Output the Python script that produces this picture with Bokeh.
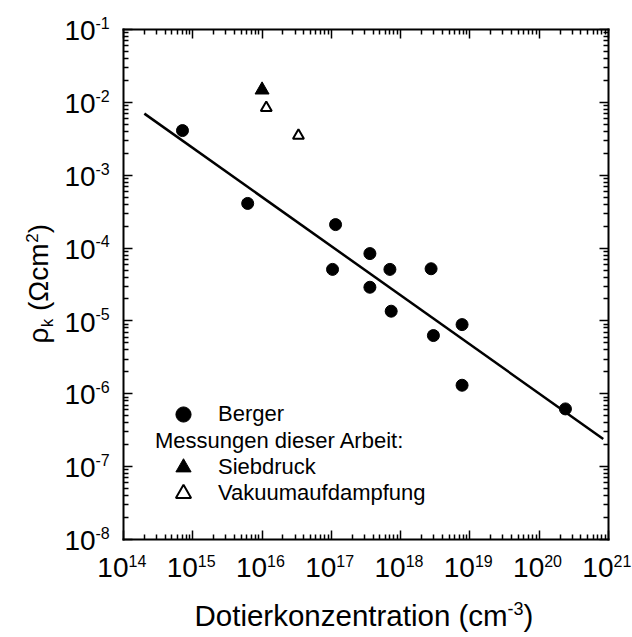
import math
from bokeh.plotting import figure
from bokeh.models import (LogAxis, FixedTicker, Label, Legend, LegendItem,
                          CustomJSTickFormatter, Range1d)
from bokeh.embed import file_html
from bokeh.resources import INLINE

# ---- data ----
berger_n = [7.1e14, 6.2e15, 1.15e17, 3.6e17, 1.04e17, 7.0e17, 2.75e18,
            3.6e17, 7.3e17, 7.7e18, 2.97e18, 7.7e18, 2.39e20]
berger_rho = [4.1e-3, 4.1e-4, 2.1e-4, 8.4e-5, 5.1e-5, 5.1e-5, 5.2e-5,
              2.9e-5, 1.36e-5, 8.9e-6, 6.3e-6, 1.31e-6, 6.2e-7]
sieb_n = [1.0e16]
sieb_rho = [1.48e-2]
vak_n = [1.15e16, 3.35e16]
vak_rho = [8.4e-3, 3.5e-3]
fit_n = [2.0e14, 8.4e20]
fit_rho = [7.0e-3, 2.4e-7]

x_exponents = [14, 15, 16, 17, 18, 19, 20, 21]
x_tick_sup = ["14", "15", "16", "17", "18", "19", "20", "21"]
y_exponents = [-8, -7, -6, -5, -4, -3, -2, -1]
y_tick_sup = ["-8", "-7", "-6", "-5", "-4", "-3", "-2", "-1"]

legend_labels = ["Berger", "Siebdruck", "Vakuumaufdampfung"]
legend_heading = "Messungen dieser Arbeit:"
x_title = "Dotierkonzentration (cm"
x_title_sup = "-3"

FONT = "Liberation Sans"

# ---- layout geometry (canvas pixels) ----
W, H = 632, 637
BOX_L, BOX_R, BOX_T, BOX_B = 123, 608, 29, 539
xmin, xmax = 1e14, 1e21
ymin, ymax = 1e-8, 1e-1
dx = (BOX_R - BOX_L) / (math.log10(xmax) - math.log10(xmin))
dy = (BOX_B - BOX_T) / (math.log10(ymax) - math.log10(ymin))
x_range = Range1d(10 ** (math.log10(xmin) - BOX_L / dx),
                  10 ** (math.log10(xmax) + (W - BOX_R) / dx))
y_range = Range1d(10 ** (math.log10(ymin) - (H - BOX_B) / dy),
                  10 ** (math.log10(ymax) + BOX_T / dy))

p = figure(width=W, height=H, x_axis_type="log", y_axis_type="log",
           x_range=x_range, y_range=y_range,
           output_backend="svg", toolbar_location=None,
           min_border_left=0, min_border_right=0,
           min_border_top=0, min_border_bottom=0)
p.grid.visible = False
p.outline_line_color = None
p.background_fill_color = "white"
p.border_fill_color = "white"

x_major = [10.0 ** e for e in x_exponents]
x_minor = [m * 10.0 ** e for e in x_exponents[:-1] for m in range(2, 10)]
y_major = [10.0 ** e for e in y_exponents]
y_minor = [m * 10.0 ** e for e in y_exponents[:-1] for m in range(2, 10)]


def style(ax, major, minor, loc, bounds):
    ax.ticker = FixedTicker(ticks=major, minor_ticks=minor)
    ax.formatter = CustomJSTickFormatter(code="return ''")
    ax.fixed_location = loc
    ax.bounds = bounds
    ax.major_label_text_font_size = "0px"
    ax.major_label_standoff = 0
    ax.axis_line_width = 2
    ax.axis_line_color = "black"
    ax.axis_line_cap = "square"
    ax.major_tick_in = 9
    ax.major_tick_out = 0
    ax.minor_tick_in = 5
    ax.minor_tick_out = 0
    ax.major_tick_line_width = 1.5
    ax.minor_tick_line_width = 1.5
    ax.major_tick_line_color = "black"
    ax.minor_tick_line_color = "black"


style(p.xaxis[0], x_major, x_minor, ymin, (xmin, xmax))
style(p.yaxis[0], y_major, y_minor, xmin, (ymin, ymax))
top = LogAxis()
style(top, x_major, x_minor, ymax, (xmin, xmax))
p.add_layout(top, "above")
right = LogAxis()
style(right, y_major, y_minor, xmax, (ymin, ymax))
p.add_layout(right, "right")

# ---- data glyphs ----
p.line(fit_n, fit_rho, line_color="black", line_width=2.5)
r_berger = p.scatter(berger_n, berger_rho, marker="circle", size=12,
                     fill_color="black", line_color="black", line_width=1)
r_sieb = p.scatter(sieb_n, sieb_rho, marker="triangle", size=14,
                   fill_color="black", line_color="black", line_width=1)
r_vak = p.scatter(vak_n, vak_rho, marker="triangle", size=11,
                  fill_color="white", line_color="black", line_width=2)

# ---- legends ----
common = dict(glyph_width=38, glyph_height=38, label_standoff=16,
              label_text_font=FONT, label_text_font_size="22px",
              label_text_color="black", padding=0, margin=0, spacing=0,
              border_line_color=None, background_fill_alpha=0)
for lab, rend, loc in [(legend_labels[0], r_berger, (164, 204.3)),
                       (legend_labels[1], r_sieb, (164, 151)),
                       (legend_labels[2], r_vak, (164, 124.7))]:
    p.add_layout(Legend(items=[LegendItem(label=lab, renderers=[rend])],
                        location=loc, **common))


def txt(text, x, y, xo, yo, fs, angle=0.0):
    p.add_layout(Label(x=x, y=y, x_offset=xo, y_offset=yo, text=text,
                       angle=angle, text_font=FONT, text_font_size=fs,
                       text_align="left", text_baseline="middle",
                       text_color="black"))


txt(legend_heading, xmin, ymin, 31.5, 98.7, "22px")

# ---- tick labels ----
for e, sup in zip(x_exponents, x_tick_sup):
    p.add_layout(Label(x=10.0 ** e, y=ymin, x_offset=5, y_offset=-28.2, text="10",
                       text_font=FONT, text_font_size="28px", text_align="right",
                       text_baseline="middle", text_color="black"))
    txt(sup, 10.0 ** e, ymin, 5, -21.4, "16px")
for e, sup in zip(y_exponents, y_tick_sup):
    txt("10", xmin, 10.0 ** e, -59, -1.2, "28px")
    txt(sup, xmin, 10.0 ** e, -28, 6.6, "16px")

# ---- x title ----
txt(x_title, xmin, ymin, 71, -75.7, "29.5px")
txt(x_title_sup, xmin, ymin, 384.1, -68.7, "18px")
txt(")", xmin, ymin, 400.1, -75.7, "29.5px")

# ---- y title (rotated pieces) ----
y_pieces = [("ρ", -84.8, 196, "28px"), ("k", -76, 212.2, "17px"),
            ("(Ωcm", -84.8, 228.5, "28px"), ("2", -92, 296.7, "17px"),
            (")", -84.8, 306.2, "28px")]
for t, xo, yo, fs in y_pieces:
    txt(t, xmin, ymin, xo, yo, fs, angle=math.pi / 2)

open("out.html", "w").write(file_html(p, INLINE))
